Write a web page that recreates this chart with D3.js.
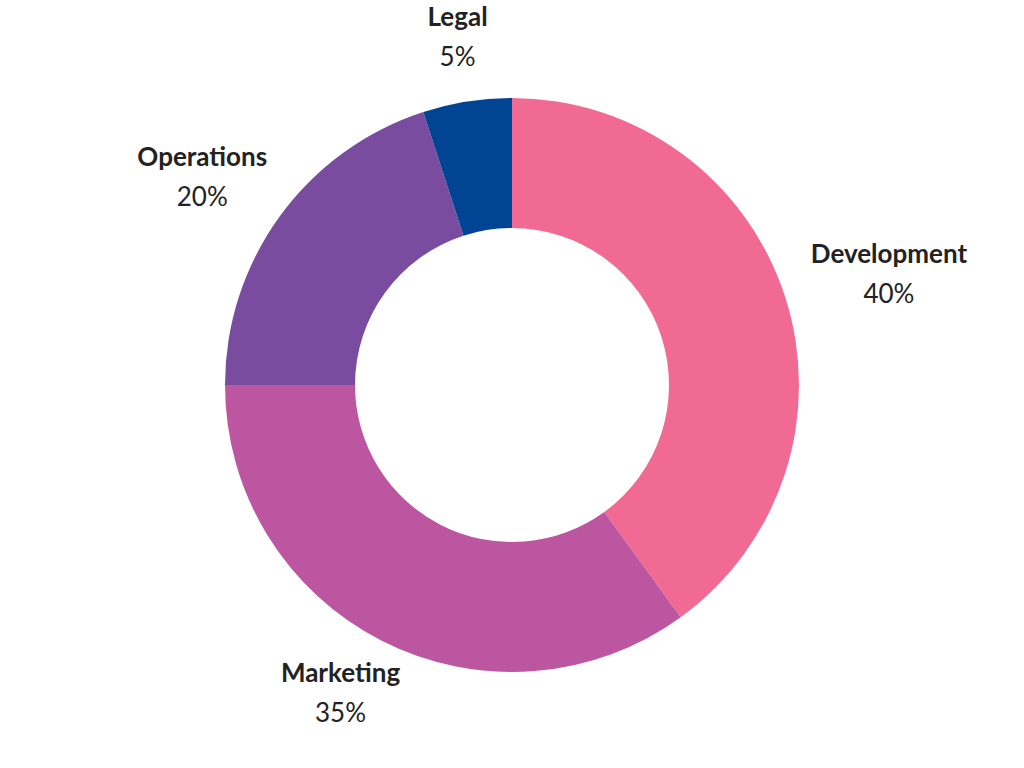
<!DOCTYPE html>
<html lang="en">
<head>
<meta charset="UTF-8">
<title>Donut</title>
<script src="https://d3js.org/d3.v7.min.js"></script>
<style>
  body { margin: 0; background: #fff; }
  text { font-family: Lato, sans-serif; fill: #222; }
</style>
</head>
<body>
<script>
// data
const categories = ["Development", "Marketing", "Operations", "Legal"];
const shares = [40, 35, 20, 5];
const colors = ["#F06A93", "#BC56A0", "#7A4C9F", "#004493"];

const width = 1024, height = 768;
const cx = 512, cy = 385, outerR = 287, innerR = 157;

const svg = d3.select("body").append("svg")
    .attr("width", width).attr("height", height);

const g = svg.append("g").attr("transform", `translate(${cx},${cy})`);

const pie = d3.pie().sort(null).value(d => d.v);
const arcs = pie(categories.map((c, i) => ({ c, v: shares[i], col: colors[i] })));
const arc = d3.arc().innerRadius(innerR).outerRadius(outerR);

g.selectAll("path").data(arcs).enter().append("path")
    .attr("d", arc)
    .attr("fill", d => d.data.col);

// labels pushed outward from the arc, box offset along the direction
arcs.forEach(d => {
    const a = (d.startAngle + d.endAngle) / 2;
    const dx = Math.sin(a), dy = -Math.cos(a);
    const r = outerR + 31;
    const lab = g.append("g");
    lab.append("text").attr("text-anchor", "middle").attr("y", -6)
        .style("font-weight", "bold").style("font-size", "26px").text(d.data.c);
    lab.append("text").attr("text-anchor", "middle").attr("y", 34)
        .style("font-size", "26px").text(d.data.v + "%");
    const w = lab.node().getBBox().width, h = 62;
    const x = r * dx + dx * w / 2;
    const y = r * dy + dy * h / 2;
    lab.attr("transform", `translate(${x},${y - 8})`);
});
</script>
</body>
</html>
